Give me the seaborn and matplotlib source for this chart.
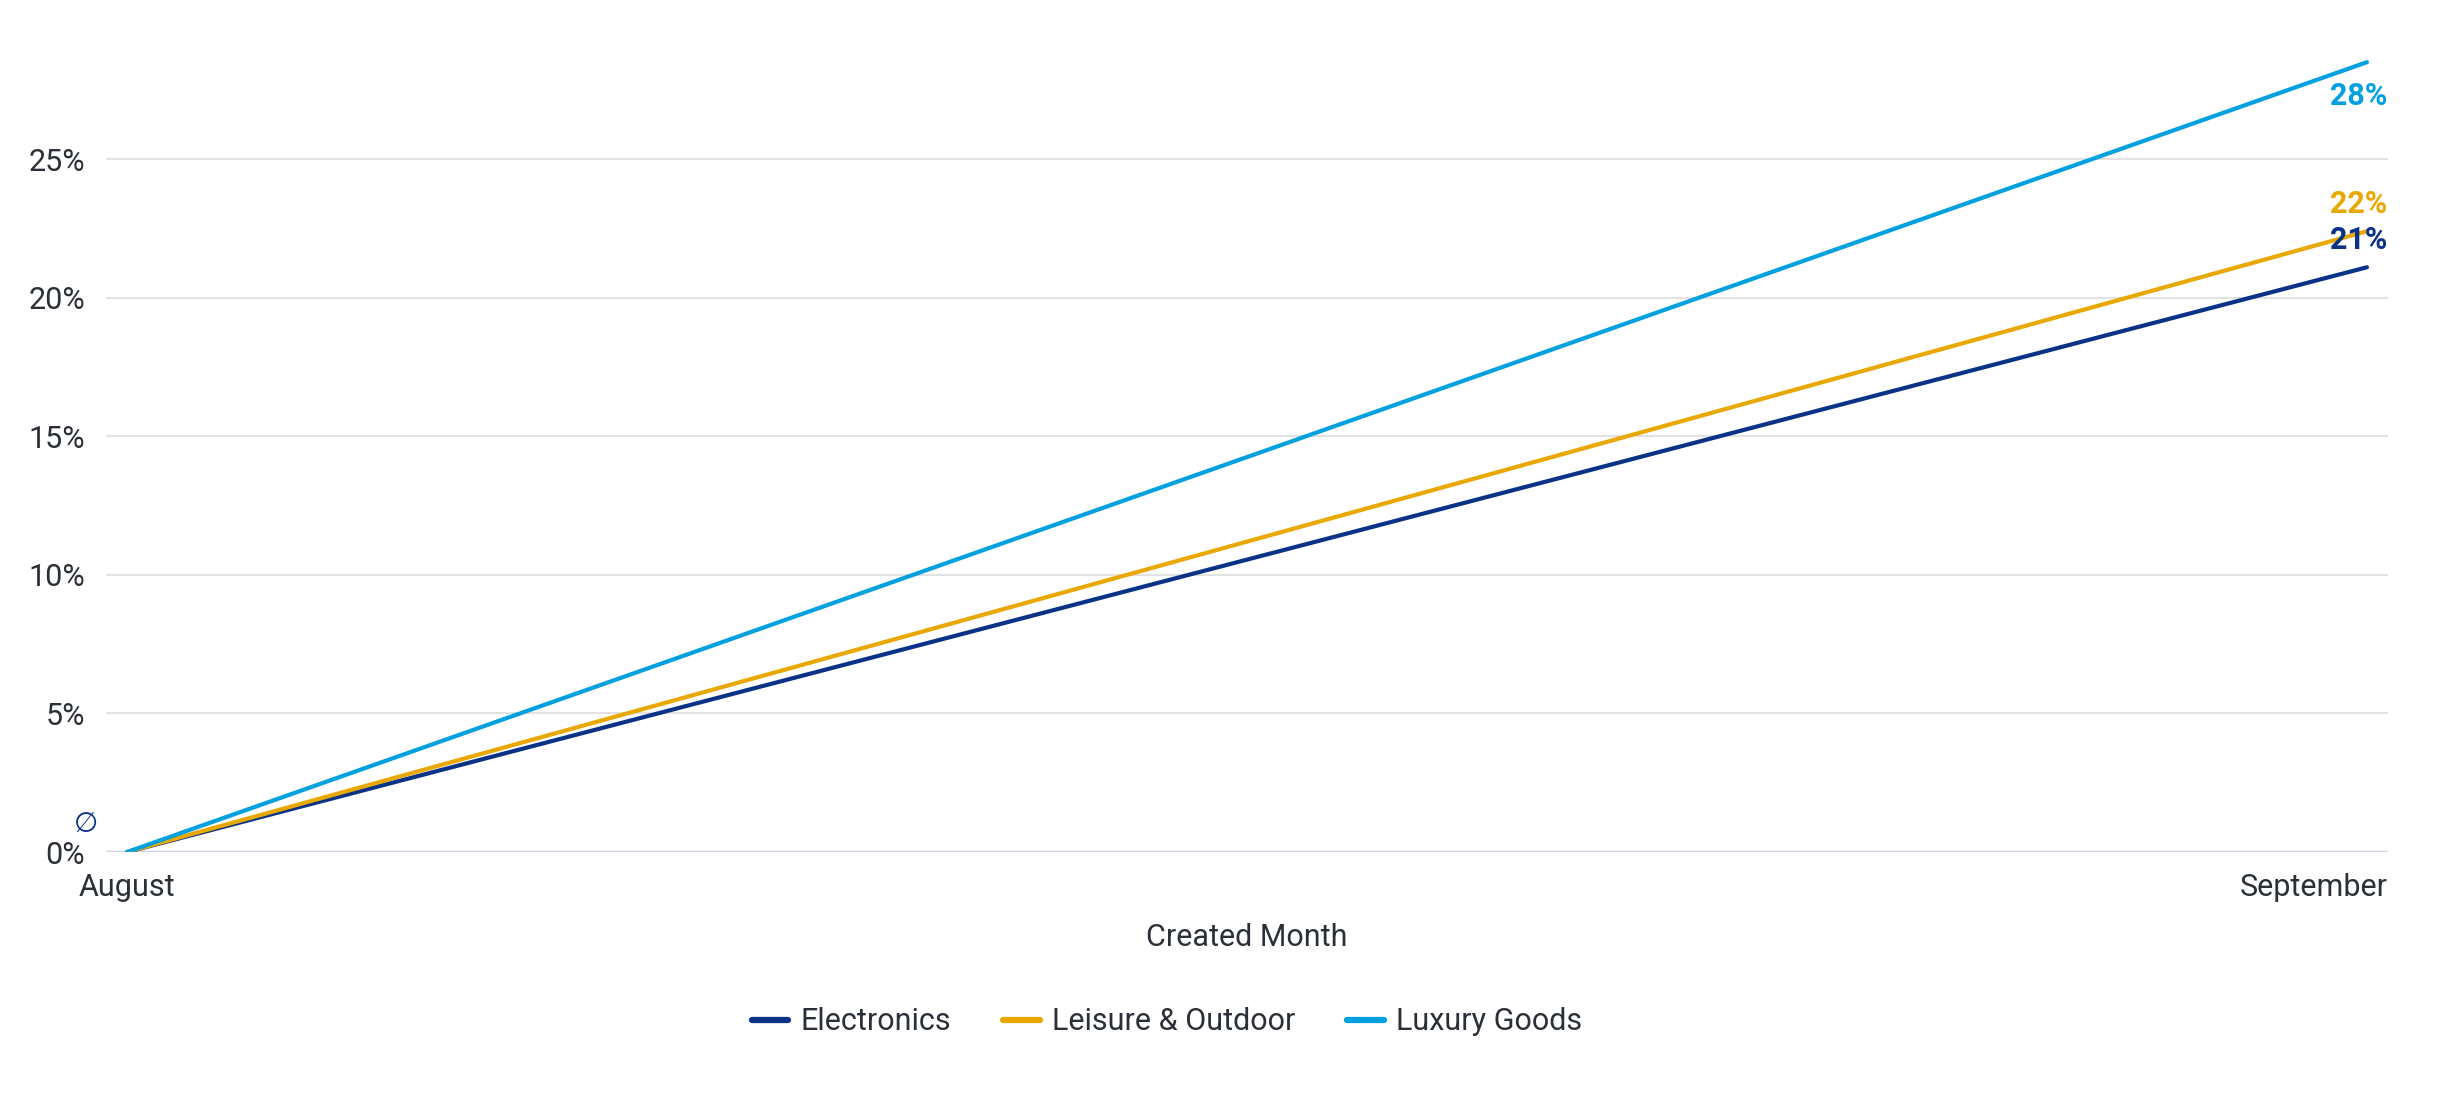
import matplotlib
matplotlib.use("Agg")
import matplotlib.pyplot as plt
import seaborn as sns
import pandas as pd
from matplotlib.lines import Line2D

months = ["August", "September"]
electronics = [0.0, 21.1]
leisure = [0.0, 22.4]
luxury = [0.0, 28.5]
series_names = ["Electronics", "Leisure & Outdoor", "Luxury Goods"]
end_labels = ["21%", "22%", "28%"]
yticks = [0, 5, 10, 15, 20, 25]
ytick_labels = ["0%", "5%", "10%", "15%", "20%", "25%"]

colors = {"Electronics": "#0a3287", "Leisure & Outdoor": "#e8a800", "Luxury Goods": "#00a1de"}
text_color = "#2b3038"

sns.set_theme(style="white")
plt.rcParams["font.family"] = ["Roboto", "DejaVu Sans"]

rows = []
for name, vals in zip(series_names, [electronics, leisure, luxury]):
    for i, (m, v) in enumerate(zip(months, vals)):
        rows.append({"idx": i, "month": m, "value": v, "series": name})
df = pd.DataFrame(rows)

fig = plt.figure(figsize=(24.46, 10.94), dpi=100)
ax = fig.add_axes([106 / 2446, 1 - 852 / 1094, (2388 - 106) / 2446, (852 - 40) / 1094])

sns.lineplot(data=df, x="idx", y="value", hue="series", palette=colors, linewidth=3,
             ax=ax, legend=False, solid_capstyle="round", zorder=3)

ax.set_xlim(-0.0094, 1.0094)
ax.set_ylim(0, 29.3)
ax.set_yticks(yticks)
ax.set_yticklabels(ytick_labels)
ax.set_xticks([0, 1])
ax.set_xticklabels([months[0], ""])
ax.tick_params(axis="both", length=0, labelsize=22, colors=text_color)
ax.tick_params(axis="y", pad=15)
ax.tick_params(axis="x", pad=15)
# last month label kept inside the plot's right edge
ax.annotate(months[1], xy=(1, 0), xycoords=("data", "axes fraction"), xytext=(21, -21),
            textcoords="offset pixels", ha="right", va="top", fontsize=22, color=text_color)
for s in ax.spines.values():
    s.set_visible(False)
ax.grid(axis="y", color="#e2e2e2", linewidth=1.5, zorder=0)
ax.axhline(0, color="#cdd6e8", linewidth=2.5, zorder=1)
ax.set_xlabel("Created Month", fontsize=22, color=text_color, labelpad=15)
ax.set_ylabel("")

# end labels
offsets = {"Electronics": 27, "Leisure & Outdoor": 27, "Luxury Goods": -34}
for name, vals, lab in zip(series_names, [electronics, leisure, luxury], end_labels):
    ax.annotate(lab, xy=(1, vals[-1]), xytext=(20, offsets[name]), textcoords="offset pixels",
                ha="right", va="center", fontsize=22, fontweight="bold", color=colors[name])

ax.annotate("\u2205", xy=(0, 0), xytext=(-41, 28), textcoords="offset pixels",
            ha="center", va="center", fontsize=20, color=colors["Electronics"],
            family=["DejaVu Sans"])

handles = [Line2D([0], [0], color=colors[n], linewidth=4.5, solid_capstyle="round") for n in series_names]
leg = fig.legend(handles, series_names, loc="center", bbox_to_anchor=(1167 / 2446, 1 - 1022 / 1094),
                 ncol=3, frameon=False, fontsize=22, handlelength=1.2, handletextpad=0.4,
                 columnspacing=1.7)
for t in leg.get_texts():
    t.set_color(text_color)

fig.savefig("out.png", dpi=100, facecolor="white")
